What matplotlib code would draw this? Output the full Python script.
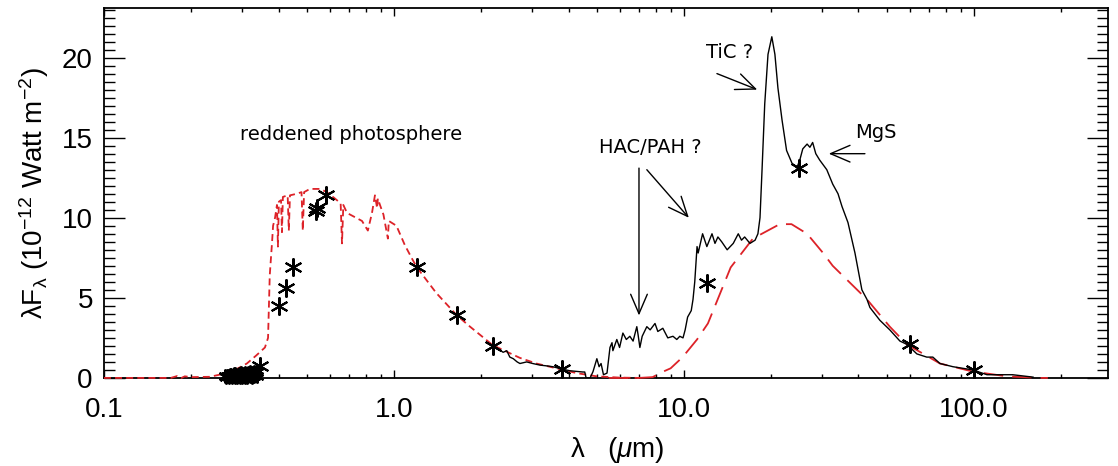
import matplotlib
matplotlib.use('Agg')
import matplotlib.pyplot as plt
from matplotlib.ticker import MultipleLocator, FixedLocator, LogLocator, NullFormatter

plt.rcParams['font.family'] = ['Liberation Sans', 'DejaVu Sans']
plt.rcParams['mathtext.fontset'] = 'custom'
plt.rcParams['mathtext.rm'] = 'Liberation Sans'
plt.rcParams['mathtext.it'] = 'Liberation Sans:italic'
plt.rcParams['mathtext.default'] = 'regular'
plt.rcParams['lines.scale_dashes'] = False

# reddened photosphere model (um, 1e-12 W m-2)
phot_wl = [0.10, 0.15, 0.17, 0.179, 0.185, 0.19, 0.20, 0.232, 0.25, 0.272, 0.29, 0.311,
           0.335, 0.359, 0.368, 0.373, 0.380, 0.383, 0.389, 0.395, 0.398, 0.401, 0.408,
           0.411, 0.414, 0.430, 0.434, 0.438, 0.463, 0.480, 0.485, 0.490, 0.513, 0.556,
           0.587, 0.626, 0.655, 0.662, 0.669, 0.689, 0.776, 0.813, 0.84, 0.86, 0.875,
           0.88, 0.895, 0.92, 0.953, 0.96, 1.02, 1.09, 1.15, 1.2, 1.4, 1.65, 1.83, 2.19,
           2.72, 3.1, 3.83, 4.27, 5.0, 6.0, 7.0]
phot_f = [0.0, 0.0, 0.0, 0.12, 0.0, 0.1, 0.05, 0.07, 0.2, 0.4, 0.6, 0.9,
          1.4, 1.9, 2.5, 6.4, 8.5, 9.5, 10.0, 10.8, 8.2, 11.0, 11.1,
          9.1, 11.3, 11.4, 9.2, 11.4, 11.5, 11.6, 9.2, 11.6, 11.8, 11.8,
          11.6, 11.2, 10.9, 8.4, 10.8, 10.3, 9.8, 9.2, 10.3, 11.4, 10.6,
          11.2, 10.8, 10.2, 8.7, 9.8, 9.5, 8.3, 7.5, 6.9, 5.3, 3.9, 3.2, 2.05,
          1.25, 0.9, 0.5, 0.3, 0.1, 0.02, 0.0]

# dust shell model
dust_wl = [5.5, 7.0, 7.8, 8.5, 9.0, 9.9, 11.1, 12.1, 14.5, 17.3, 21.4, 23.5, 26.6,
           30.2, 32.6, 42.8, 51.3, 58.7, 76.4, 99.0, 130.0, 169.0, 180.0]
dust_f = [0.0, 0.0, 0.05, 0.4, 0.6, 1.3, 2.4, 3.4, 6.9, 8.7, 9.6, 9.6, 9.0,
          7.8, 7.0, 4.9, 3.2, 2.1, 0.9, 0.4, 0.1, 0.0, 0.0]

# ISO spectrum
iso_wl = [2.19, 2.38, 2.45, 2.51, 2.58, 2.66, 2.72, 2.87, 3.01, 3.19, 3.37, 3.53, 3.80,
          4.04, 4.48, 4.55, 4.60, 4.75, 4.86, 5.01, 5.10, 5.18, 5.28, 5.43, 5.56, 5.65,
          5.69, 5.87, 6.00, 6.16, 6.33, 6.51, 6.68, 6.88, 6.95, 7.05, 7.18, 7.45, 7.65,
          7.95, 8.13, 8.46, 8.80, 9.17, 9.45, 9.68, 9.93, 10.1, 10.3, 10.6, 10.75, 10.9,
          11.1, 11.2, 11.6, 12.0, 12.5, 12.8, 13.1, 13.5, 14.1, 14.8, 15.4, 15.8, 16.2,
          16.9, 17.6, 18.0, 18.3, 18.6, 19.0, 19.5, 20.1, 20.6, 21.1, 21.8, 22.6, 23.6,
          24.5, 25.1, 25.7, 26.6, 27.2, 27.8, 28.5, 29.4, 31.1, 32.6, 34.0, 35.1, 36.8,
          38.9, 41.1, 42.8, 43.8, 47.4, 51.3, 55.6, 58.7, 63.6, 68.8, 72.2, 76.4, 84.7,
          99.2, 111.0, 136.0, 160.0]
iso_f = [2.05, 1.6, 1.7, 1.3, 1.2, 1.0, 0.9, 1.0, 0.9, 0.8, 0.75, 0.7, 0.55,
         0.45, 0.37, 0.37, 0.0, 0.0, 0.4, 1.2, 0.7, 0.9, 0.2, 0.3, 1.9, 2.2,
         1.7, 2.4, 1.9, 2.8, 2.4, 2.6, 2.3, 3.2, 2.7, 1.9, 2.6, 3.2, 3.0,
         3.4, 2.9, 3.1, 2.5, 2.6, 2.4, 2.6, 2.5, 3.0, 3.8, 4.2, 4.9, 6.0,
         8.2, 7.8, 9.0, 8.2, 9.0, 8.4, 8.8, 8.5, 8.0, 8.4, 9.0, 8.6, 8.8,
         8.4, 8.6, 9.0, 10.0, 13.0, 17.1, 20.2, 21.3, 20.2, 18.1, 16.1, 14.2, 13.4,
         13.1, 13.6, 14.3, 14.6, 14.4, 14.7, 14.0, 13.6, 13.0, 12.1, 11.5, 10.7, 9.7,
         7.8, 5.5, 4.9, 4.4, 3.6, 3.0, 2.3, 2.1, 1.5, 1.3, 1.3, 0.9, 0.7,
         0.5, 0.2, 0.2, 0.05]

# photometry
phot_pts_wl = [0.345, 0.40, 0.425, 0.449, 0.538, 0.543, 0.583, 1.2, 1.65, 2.19, 3.8,
               12.0, 25.0, 60.0, 100.0]
phot_pts_f = [0.75, 4.5, 5.6, 6.9, 10.4, 10.6, 11.4, 6.9, 3.9, 2.0, 0.55,
              5.9, 13.1, 2.1, 0.5]

# UV spectrum points
uv_wl = [0.262, 0.265, 0.268, 0.271, 0.274, 0.277, 0.280, 0.283, 0.286, 0.289, 0.292,
         0.295, 0.298, 0.301, 0.304, 0.307, 0.310, 0.313, 0.316, 0.319, 0.322, 0.325,
         0.328, 0.331, 0.334, 0.337,
         0.264, 0.270, 0.276, 0.282, 0.288, 0.294, 0.300, 0.306, 0.312, 0.318, 0.324,
         0.330, 0.336]
uv_f = [0.10, 0.15, 0.12, 0.20, 0.18, 0.14, 0.22, 0.25, 0.20, 0.18, 0.26,
        0.22, 0.28, 0.24, 0.20, 0.30, 0.27, 0.32, 0.25, 0.35, 0.30, 0.28,
        0.38, 0.33, 0.40, 0.36,
        0.03, 0.05, 0.04, 0.06, 0.05, 0.07, 0.06, 0.08, 0.07, 0.09, 0.08,
        0.10, 0.12]

red = '#dd2228'
star = (6, 2, 0)

fig = plt.figure(figsize=(11.18, 4.66), dpi=100)
ax = fig.add_axes([0.093, 0.189, 0.898, 0.794])

ax.plot(phot_wl, phot_f, color=red, lw=1.3, dashes=(5, 3), zorder=2.6, clip_on=False)
ax.plot(dust_wl, dust_f, color=red, lw=1.3, dashes=(14, 6.5), zorder=2.6, clip_on=False)
ax.plot(iso_wl, iso_f, color='black', lw=1.0, zorder=3)
ax.plot(uv_wl, uv_f, ls='none', marker=star, ms=10, mew=1.5, color='black', zorder=4,
        clip_on=False)
ax.plot(phot_pts_wl, phot_pts_f, ls='none', marker=star, ms=13, mew=1.5,
        color='black', zorder=4)

ax.set_xscale('log')
ax.set_xlim(0.1, 290)
ax.set_ylim(0, 23.1)

ax.xaxis.set_major_locator(FixedLocator([0.1, 1.0, 10.0, 100.0]))
ax.set_xticklabels(['0.1', '1.0', '10.0', '100.0'])
ax.xaxis.set_minor_locator(LogLocator(base=10, subs=range(2, 10)))
ax.xaxis.set_minor_formatter(NullFormatter())
ax.yaxis.set_major_locator(MultipleLocator(5))
ax.yaxis.set_minor_locator(MultipleLocator(0.5))

ax.tick_params(axis='both', which='both', direction='in', top=True, right=True,
               labelsize=20, width=1.0)
ax.tick_params(axis='x', which='major', length=6, pad=14)
ax.tick_params(axis='x', which='minor', length=3)
ax.tick_params(axis='y', which='major', length=15, pad=8)
ax.tick_params(axis='y', which='minor', length=8)
for s in ax.spines.values():
    s.set_linewidth(1.3)
fig.canvas.draw()
ax.get_yticklabels()[0].set_va('bottom')

ax.set_ylabel(r'$\lambda$F$_\lambda$ (10$^{-12}$ Watt m$^{-2}$)', fontsize=20, labelpad=8)
ax.set_xlabel(r'$\lambda$   ($\mathit{\mu}$m)', fontsize=20)
ax.xaxis.set_label_coords(0.511, -0.155)

# annotations
note = dict(fontsize=14, ha='center', va='center', family='DejaVu Sans')
ax.text(0.71, 15.2, 'reddened photosphere', **note)
ax.text(7.63, 14.4, 'HAC/PAH ?', **note)
ax.text(14.4, 20.3, 'TiC ?', **note)
ax.text(45.9, 15.3, 'MgS', **note)

arrow = dict(arrowstyle='->,head_length=1.4,head_width=0.6', color='black', lw=1.0,
             shrinkA=0, shrinkB=0)
ax.annotate('', xy=(7.0, 3.9), xytext=(7.0, 13.1), arrowprops=arrow)
ax.annotate('', xy=(10.4, 10.0), xytext=(7.45, 13.0), arrowprops=arrow)
ax.annotate('', xy=(17.9, 18.0), xytext=(13.0, 19.0), arrowprops=arrow)
ax.annotate('', xy=(31.6, 14.0), xytext=(42.1, 14.0), arrowprops=arrow)

fig.savefig('out.png', dpi=100, facecolor='white')
